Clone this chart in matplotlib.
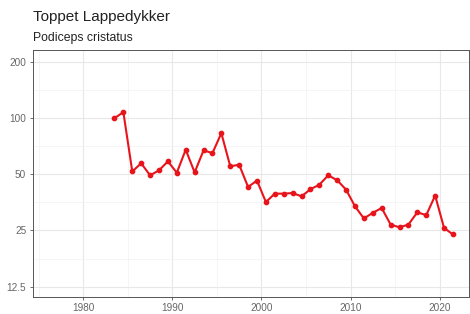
import matplotlib
matplotlib.use("Agg")
import matplotlib.pyplot as plt
from matplotlib.ticker import FixedLocator, FixedFormatter, NullFormatter
import numpy as np

plt.rcParams['font.family'] = ['Liberation Sans', 'DejaVu Sans']

title = "Toppet Lappedykker"
subtitle = "Podiceps cristatus"

# season midpoints (winter seasons 1983/84 ... 2021/22)
season_mid = [1983.5, 1984.5, 1985.5, 1986.5, 1987.5, 1988.5, 1989.5, 1990.5,
              1991.5, 1992.5, 1993.5, 1994.5, 1995.5, 1996.5, 1997.5, 1998.5,
              1999.5, 2000.5, 2001.5, 2002.5, 2003.5, 2004.5, 2005.5, 2006.5,
              2007.5, 2008.5, 2009.5, 2010.5, 2011.5, 2012.5, 2013.5, 2014.5,
              2015.5, 2016.5, 2017.5, 2018.5, 2019.5, 2020.5, 2021.5]
index = [100, 107.7, 51.8, 57.3, 49.4, 52.5, 58.7, 51.0,
         67.8, 51.2, 67.2, 65.0, 83.1, 55.2, 56.3, 42.8,
         46.3, 35.5, 39.4, 39.4, 39.7, 38.1, 41.6, 44.0,
         49.4, 46.5, 41.4, 33.7, 29.0, 31.1, 33.0, 26.9,
         26.0, 26.9, 31.3, 30.2, 38.5, 25.8, 23.8]

x_ticks = [1980, 1990, 2000, 2010, 2020]
x_minor = [1975, 1985, 1995, 2005, 2015, 2025]
y_ticks = [12.5, 25, 50, 100, 200]
y_labels = ["12.5", "25", "50", "100", "200"]

fig = plt.figure(figsize=(4.70, 3.14), dpi=100)
ax = fig.add_axes([32.5/470, 1-296.5/314, (469-32.5)/470, (296.5-50)/314])

ax.set_yscale('log')
ax.set_xlim(1974.3, 2023.3)
ax.set_ylim(11.07, 232)

ax.yaxis.set_major_locator(FixedLocator(y_ticks))
ax.yaxis.set_major_formatter(FixedFormatter(y_labels))
ax.yaxis.set_minor_locator(FixedLocator([np.sqrt(a*b) for a, b in zip(y_ticks[:-1], y_ticks[1:])]))
ax.yaxis.set_minor_formatter(NullFormatter())
ax.xaxis.set_major_locator(FixedLocator(x_ticks))
ax.xaxis.set_minor_locator(FixedLocator(x_minor))

ax.grid(which='major', color='#e8e8e8', linewidth=0.8)
ax.grid(which='minor', color='#f2f2f2', linewidth=0.5)
ax.set_axisbelow(True)

for s in ax.spines.values():
    s.set_color('#555555')
    s.set_linewidth(0.7)

ax.tick_params(which='major', length=2.5, width=0.6, color='#555555',
               labelsize=7.2, labelcolor='#666666', pad=2)
ax.tick_params(which='minor', length=0)

ax.plot(season_mid, index, color='#e8141c', linewidth=1.5, marker='o',
        markersize=3.1, zorder=3)

fig.text(33/470, 1-17/314, title, fontsize=11, color='#222222', va='center', ha='left')
fig.text(33/470, 1-38/314, subtitle, fontsize=8.8, color='#222222', va='center', ha='left')

fig.savefig("out.png", dpi=100)
